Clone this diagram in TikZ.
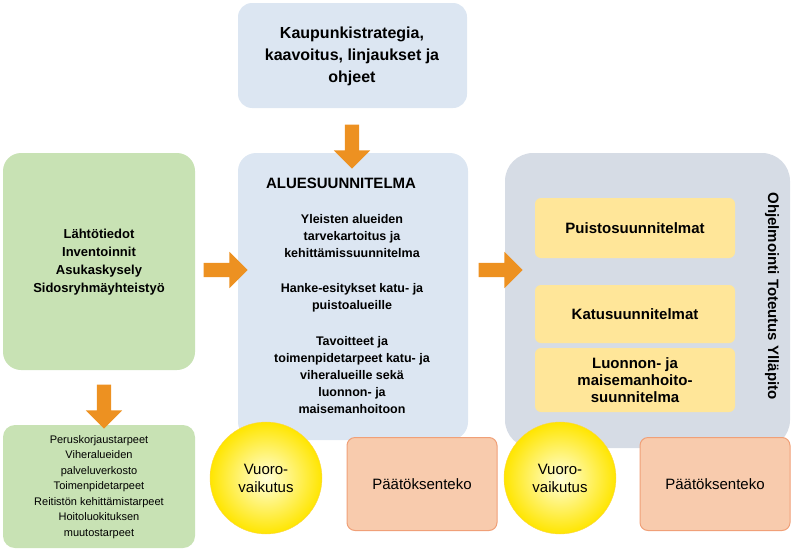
\documentclass[tikz,border=0pt]{standalone}
\usepackage{fontspec}
\setmainfont{Liberation Sans}
\usetikzlibrary{shapes.arrows}
\definecolor{lblue}{RGB}{220,230,242}
\definecolor{lgreen}{RGB}{200,226,180}
\definecolor{dgray}{RGB}{214,220,229}
\definecolor{lyellow}{RGB}{255,230,153}
\definecolor{salmon}{RGB}{248,203,173}
\definecolor{salmonb}{RGB}{240,160,120}
\definecolor{orng}{RGB}{237,145,33}
\tikzset{
 ybox/.style={rounded corners=6pt,fill=lyellow,minimum width=200pt,align=center,font=\bfseries\fontsize{15}{17}\selectfont},
 pbox/.style={rounded corners=8pt,fill=salmon,draw=salmonb,line width=1pt,minimum width=150pt,minimum height=93pt,font=\fontsize{15}{17}\selectfont},
 bigarrow/.style={single arrow,fill=orng,minimum height=44pt,minimum width=14pt,single arrow head extend=11pt,inner sep=7pt,single arrow head indent=0pt},
 circ/.style={circle,minimum size=112pt,inner sep=0pt,align=center,inner color=yellow!15,outer color=yellow!80!orange,draw=yellow!60!orange!70,font=\fontsize{15}{18}\selectfont},
}
\begin{document}
\begin{tikzpicture}[x=1pt,y=-1pt]
\useasboundingbox (0,0) rectangle (797,554);
\fill[lblue,rounded corners=14pt] (238,3) rectangle (467,108);
\node[align=center,font=\bfseries\fontsize{16}{22}\selectfont] (top) at (352,56) {Kaupunkistrategia,\\kaavoitus, linjaukset ja\\ohjeet};
\fill[lgreen,rounded corners=18pt] (3,153) rectangle (195,370);
\node[align=center,font=\bfseries\fontsize{13}{18}\selectfont] (left) at (99,262) {Lähtötiedot\\Inventoinnit\\Asukaskysely\\Sidosryhmäyhteistyö};
\fill[lblue,rounded corners=18pt] (238,153) rectangle (468,440);
\node[font=\bfseries\fontsize{15}{17}\selectfont] (title) at (341,183) {ALUESUUNNITELMA};
\node[align=center,font=\bfseries\fontsize{12.5}{17}\selectfont] (t1) at (352,236) {Yleisten alueiden\\tarvekartoitus ja\\kehittämissuunnitelma};
\node[align=center,font=\bfseries\fontsize{12.5}{17}\selectfont] (t2) at (352,298) {Hanke-esitykset katu- ja\\puistoalueille};
\node[align=center,font=\bfseries\fontsize{12.5}{17}\selectfont] (t3) at (352,375) {Tavoitteet ja\\toimenpidetarpeet katu- ja\\viheralueille sekä\\luonnon- ja\\maisemanhoitoon};
\fill[dgray,rounded corners=28pt] (505,153) rectangle (790,448);
\node[rotate=-90,font=\bfseries\fontsize{15}{17}\selectfont] (vert) at (772,296) {Ohjelmointi Toteutus Ylläpito};
\node[ybox,minimum height=60pt] (y1) at (635,228) {Puistosuunnitelmat};
\node[ybox,minimum height=58pt] (y2) at (635,314) {Katusuunnitelmat};
\node[ybox,minimum height=64pt] (y3) at (635,380) {Luonnon- ja\\maisemanhoito-\\suunnitelma};
\fill[lgreen,rounded corners=12pt] (3,425) rectangle (195,548);
\node[align=center,font=\fontsize{11}{15.5}\selectfont] (bl) at (99,487) {Peruskorjaustarpeet\\Viheralueiden\\palveluverkosto\\Toimenpidetarpeet\\Reitistön kehittämistarpeet\\Hoitoluokituksen\\muutostarpeet};
\node[pbox] (p1) at (422,484) {Päätöksenteko};
\node[pbox] (p2) at (715,484) {Päätöksenteko};
\node[circ] (c1) at (266,478) {Vuoro-\\vaikutus};
\node[circ] (c2) at (560,478) {Vuoro-\\vaikutus};
\node[bigarrow,rotate=-90] (a1) at (352,143) {};
\node[bigarrow] (a2) at (222,270) {};
\node[bigarrow] (a3) at (497,270) {};
\node[bigarrow,rotate=-90] (a4) at (104,403) {};
\end{tikzpicture}
\end{document}
